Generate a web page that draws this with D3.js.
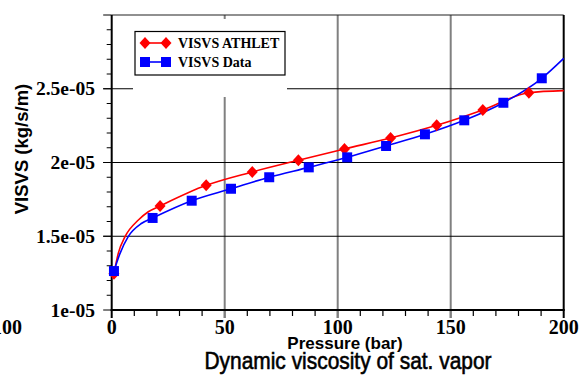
<!DOCTYPE html>
<html>
<head>
<meta charset="utf-8">
<script src="https://cdn.jsdelivr.net/npm/d3@7"></script>
<style>
html,body{margin:0;padding:0;background:#fff;overflow:hidden;}
svg{display:block;}
</style>
</head>
<body>
<svg id="chart" width="586" height="379"></svg>
<script>
// ---------------- data ----------------
const seriesNames = ["VISVS ATHLET", "VISVS Data"];
// marker points
const athletP = [1, 21.4, 41.8, 62.2, 82.6, 103, 123.4, 143.8, 164.2, 184.6];
const athletV = [1.245e-5, 1.705e-5, 1.845e-5, 1.936e-5, 2.015e-5, 2.092e-5, 2.166e-5, 2.252e-5, 2.356e-5, 2.473e-5];
const dataP = [1, 18.1, 35.4, 52.8, 69.7, 87.2, 104.2, 121.4, 138.6, 156, 173.3, 190.3];
const dataV = [1.264e-5, 1.624e-5, 1.741e-5, 1.822e-5, 1.900e-5, 1.967e-5, 2.035e-5, 2.112e-5, 2.191e-5, 2.286e-5, 2.405e-5, 2.571e-5];
// extra points on the continuous curves (between markers)
const athletCurveP = [2.9, 5.9, 11.8, 16.2, 200];
const athletCurveV = [1.384e-5, 1.497e-5, 1.61e-5, 1.666e-5, 2.487e-5];
const dataCurveP = [3.7, 7.3, 13.3, 200];
const dataCurveV = [1.384e-5, 1.497e-5, 1.588e-5, 2.706e-5];
// axes
const xTicksMajor = [0, 50, 100, 150, 200];
const xTickLabels = ["0", "50", "100", "150", "200"];
const yTicksMajor = [1e-5, 1.5e-5, 2e-5, 2.5e-5];
const yTickLabels = ["1e-05", "1.5e-05", "2e-05", "2.5e-05"];
const xTitle = "Pressure (bar)";
const yTitle = "VISVS (kg/s/m)";
const chartTitle = "Dynamic viscosity of sat. vapor";
const strayLabel = "100";

// ---------------- drawing ----------------
const svg = d3.select("#chart");
const L = 111.7, R = 563.7, T = 15, B = 310;
const x = d3.scaleLinear().domain([0, 200]).range([L, R]);
const y = d3.scaleLinear().domain([1e-5, 3e-5]).range([B, T]);
const red = "#ff0000", blue = "#0000ff";
const serif = "'Liberation Serif','Times New Roman',serif";
const sans = "'Liberation Sans',Arial,sans-serif";

// vertical grid lines (gray), extend below axis as major ticks
svg.append("g").selectAll("line").data(xTicksMajor.slice(1, -1)).join("line")
  .attr("x1", d => x(d)).attr("x2", d => x(d))
  .attr("y1", T).attr("y2", B + 8)
  .attr("stroke", "#808080").attr("stroke-width", 2);
// horizontal grid lines (black), extend left as major ticks
svg.append("g").selectAll("line").data(yTicksMajor.slice(1)).join("line")
  .attr("x1", L - 8.5).attr("x2", R)
  .attr("y1", d => y(d)).attr("y2", d => y(d))
  .attr("stroke", "#000").attr("stroke-width", 1);

// legend background (covers grid)
svg.append("rect").attr("x", 133).attr("y", 19).attr("width", 154).attr("height", 78)
  .attr("fill", "#fff");

// x ticks (minor every 10)
const xMinor = d3.range(0, 201, 10);
svg.append("g").selectAll("line").data(xMinor).join("line")
  .attr("x1", d => x(d)).attr("x2", d => x(d))
  .attr("y1", B).attr("y2", d => (d % 50 === 0 ? B + 8 : B + 6))
  .attr("stroke", d => (d % 50 === 0 && d !== 0 && d !== 200 ? "#808080" : "#000"))
  .attr("stroke-width", d => (d % 50 === 0 ? 2 : 1.2));
// y ticks (minor every 0.1e-5)
const yMinor = d3.range(10, 31).map(v => v * 1e-6);
svg.append("g").selectAll("line").data(yMinor).join("line")
  .attr("x1", (d, i) => (i % 5 === 0 ? L - 8.5 : L - 5)).attr("x2", L)
  .attr("y1", d => y(d)).attr("y2", d => y(d))
  .attr("stroke", "#000").attr("stroke-width", 1);

// frame
svg.append("line").attr("x1", L).attr("x2", R).attr("y1", T).attr("y2", T).attr("stroke", "#222").attr("stroke-width", 1.2);
svg.append("line").attr("x1", R).attr("x2", R).attr("y1", T).attr("y2", B).attr("stroke", "#000").attr("stroke-width", 2);
svg.append("line").attr("x1", L).attr("x2", L).attr("y1", T).attr("y2", B + 1).attr("stroke", "#000").attr("stroke-width", 2);
svg.append("line").attr("x1", L - 1).attr("x2", R + 1).attr("y1", B).attr("y2", B).attr("stroke", "#000").attr("stroke-width", 2);

// tick labels
svg.append("g").selectAll("text").data(xTicksMajor).join("text")
  .attr("x", d => x(d)).attr("y", 334)
  .attr("text-anchor", "middle")
  .style("font-family", serif).style("font-weight", "bold").style("font-size", "20px")
  .text((d, i) => xTickLabels[i]);
svg.append("text").attr("x", 22).attr("y", 334).attr("text-anchor", "end")
  .style("font-family", serif).style("font-weight", "bold").style("font-size", "20px")
  .text(strayLabel);
svg.append("g").selectAll("text").data(yTicksMajor).join("text")
  .attr("x", 95).attr("y", d => y(d) + 6.5)
  .attr("text-anchor", "end")
  .style("font-family", serif).style("font-weight", "bold").style("font-size", "19.5px")
  .text((d, i) => yTickLabels[i]);

// titles
svg.append("text").attr("x", 345).attr("y", 349).attr("text-anchor", "middle")
  .style("font-family", sans).style("font-weight", "bold").style("font-size", "17px")
  .text(xTitle);
svg.append("text").attr("x", 348).attr("y", 369).attr("text-anchor", "middle")
  .attr("textLength", 287).attr("lengthAdjust", "spacingAndGlyphs")
  .style("font-family", sans).style("font-size", "24px")
  .attr("stroke", "#000").attr("stroke-width", 0.6)
  .text(chartTitle);
svg.append("text").attr("transform", "translate(28,149) rotate(-90)").attr("text-anchor", "middle")
  .style("font-family", sans).style("font-weight", "bold").style("font-size", "18.5px")
  .text(yTitle);

// curves
function curvePts(p, v, cp, cv) {
  const pts = p.map((d, i) => [d, v[i]]).concat(cp.map((d, i) => [d, cv[i]]));
  pts.sort((a, b) => a[0] - b[0]);
  return pts;
}
const line = d3.line().x(d => x(d[0])).y(d => y(d[1])).curve(d3.curveMonotoneX);
const plot = svg.append("g");
plot.append("path").datum(curvePts(athletP, athletV, athletCurveP, athletCurveV))
  .attr("d", line).attr("fill", "none").attr("stroke", red).attr("stroke-width", 1.6);
plot.append("path").datum(curvePts(dataP, dataV, dataCurveP, dataCurveV))
  .attr("d", line).attr("fill", "none").attr("stroke", blue).attr("stroke-width", 1.6);

const diamond = "M0,-6L5.5,0L0,6L-5.5,0Z";
const square = "M-5,-5H5V5H-5Z";
plot.append("g").selectAll("path").data(athletP.map((d, i) => [d, athletV[i]])).join("path")
  .attr("d", diamond).attr("transform", d => `translate(${x(d[0])},${y(d[1])})`).attr("fill", red);
plot.append("g").selectAll("path").data(dataP.map((d, i) => [d, dataV[i]])).join("path")
  .attr("d", square).attr("transform", d => `translate(${x(d[0])},${y(d[1])})`).attr("fill", blue);

// legend
const leg = svg.append("g");
leg.append("rect").attr("x", 135).attr("y", 31.5).attr("width", 150).attr("height", 43.5)
  .attr("fill", "#fff").attr("stroke", "#000").attr("stroke-width", 1.2);
const legItems = [
  {name: seriesNames[0], color: red, shape: diamond, yy: 43},
  {name: seriesNames[1], color: blue, shape: square, yy: 62}
];
legItems.forEach(it => {
  leg.append("line").attr("x1", 145).attr("x2", 166).attr("y1", it.yy).attr("y2", it.yy)
    .attr("stroke", it.color).attr("stroke-width", 1.6);
  [145, 166].forEach(px => leg.append("path").attr("d", it.shape)
    .attr("transform", `translate(${px},${it.yy})`).attr("fill", it.color));
  leg.append("text").attr("x", 178).attr("y", it.yy + 5)
    .style("font-family", serif).style("font-weight", "bold").style("font-size", "14px")
    .text(it.name);
});
</script>
</body>
</html>
